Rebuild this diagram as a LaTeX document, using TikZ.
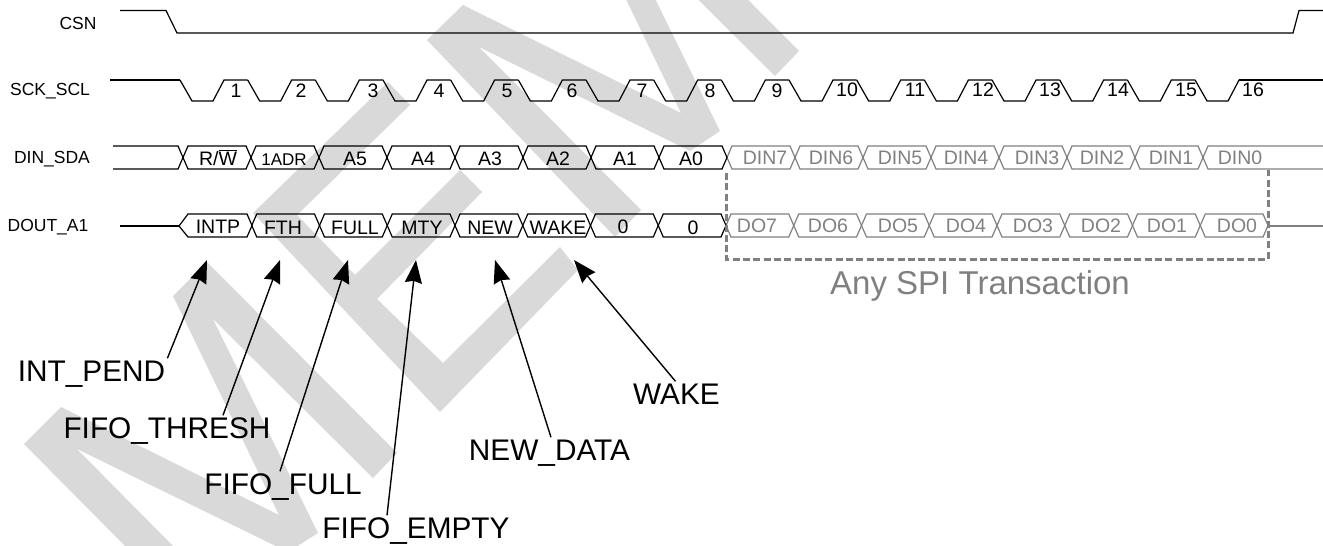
\documentclass[tikz,border=0pt]{standalone}
\usepackage{fontspec}
\setmainfont{Liberation Sans}
\usetikzlibrary{arrows.meta}
\definecolor{stamp}{HTML}{D9D9D9}
\definecolor{faded}{HTML}{808080}

\begin{document}
\begin{tikzpicture}[x=1pt,y=-1pt,line join=miter,
                    wave/.style={draw=black,line width=1.2pt},
                    fadedwave/.style={draw=faded,line width=1.2pt},
                    signame/.style={inner sep=0,text height=12.5pt,text depth=0pt,font=\fontsize{17.5}{17.5}\selectfont},
                    cell/.style={inner sep=0,text height=13.9pt,text depth=0pt,font=\fontsize{19.5}{19.5}\selectfont},
                    fadedcell/.style={cell,text=faded},
                    callout/.style={inner sep=0,text height=21pt,text depth=0pt,font=\fontsize{29.8}{29.8}\selectfont},
                    pointer/.style={draw=black,line width=1.4pt,-{Stealth[length=23pt,width=17pt,inset=2pt]}}]
  \useasboundingbox (0,0) rectangle (1323,546);

  \begin{scope}
    \clip (0,0) rectangle (1323,546);
    \fill[stamp] (61,407) -- (279,515) -- (173,296) -- (207,262) -- (397,453) -- (373,478)
      -- (213,319) -- (318,533) -- (288,552) -- (77,449) -- (173,546) -- (125,546) -- (24,444) -- cycle;
    \fill[stamp] (253,213) -- (388,82) -- (410,105) -- (297,215) -- (355,275) -- (460,170) -- (482,192)
      -- (377,299) -- (443,363) -- (560,247) -- (578,270) -- (440,412) -- cycle;
    \fill[stamp] (463,5) -- (681,113) -- (575,-106) -- (609,-140) -- (799,51) -- (775,76)
      -- (615,-83) -- (720,131) -- (690,151) -- (479,47) -- (641,210) -- (615,237) -- (427,40) -- cycle;
  \end{scope}

  \node[signame] (csn)  at (78,23)    {CSN};
  \node[signame] (sck)  at (50,89)    {SCK\_SCL};
  \node[signame] (din)  at (52,157.5) {DIN\_SDA};
  \node[signame] (dout) at (48,225.5) {DOUT\_A1};

  \draw[wave] (120,10.5) -- (166,10.5) -- (177,33) -- (1293,33) -- (1299,10.5) -- (1323,10.5);

  \draw[wave] (110,80) -- (180,80);
  \foreach \i in {0,...,15}{
    \pgfmathsetmacro{\xa}{180+67.67*\i}
    \draw[wave] (\xa,80) -- (\xa+12,101) -- (\xa+33,101) -- (\xa+44,80) -- (\xa+67.67,80);
  }
  \draw[wave] (1239,80) -- (1323,80);
  \foreach \i/\xx/\yy in {1/236/91,2/301/91,3/373/91,4/439/91,5/507/91,6/572/91,7/642/91,8/710/91,
                          9/777/91,10/847/90,11/915/90,12/983/90,13/1050/90,14/1118/90,15/1186/90,16/1253/90}
    \node[cell] (clk\i) at (\xx,\yy) {\i};

  \draw[wave] (113,146) -- (178,146) -- (183,157.5) -- (178,169) -- (113,169);
  \foreach \i in {8,...,14}{
    \pgfmathsetmacro{\xa}{183+68*\i}
    \draw[fadedwave] (\xa,157.5) -- (\xa+5,146) -- (\xa+63,146) -- (\xa+68,157.5) -- (\xa+63,169) -- (\xa+5,169) -- cycle;
  }
  \draw[fadedwave] (1323,146) -- (1208,146) -- (1203,157.5) -- (1208,169) -- (1323,169);
  \foreach \i in {0,...,7}{
    \pgfmathsetmacro{\xa}{183+68*\i}
    \draw[wave] (\xa,157.5) -- (\xa+5,146) -- (\xa+63,146) -- (\xa+68,157.5) -- (\xa+63,169) -- (\xa+5,169) -- cycle;
  }
  \foreach \i/\xx/\txt in {1/218/{R/$\overline{\mbox{W}}$},3/355/A5,4/423/A4,5/490/A3,6/558/A2,7/625/A1,8/691/A0}
    \node[cell] (dinbit\i) at (\xx,158.5) {\txt};
  \node[cell,font=\fontsize{17}{17}\selectfont] (dinbit2) at (284,158.5) {1ADR};
  \foreach \i/\xx/\txt in {9/765/DIN7,10/831/DIN6,11/900/DIN5,12/966/DIN4,13/1037/DIN3,14/1102/DIN2,15/1171/DIN1,16/1240/DIN0}
    \node[fadedcell] (dinbit\i) at (\xx,157.5) {\txt};

  \draw[wave] (120,226) -- (179,226);
  \foreach \i in {8,...,15}{
    \pgfmathsetmacro{\xa}{184+67.75*\i}
    \draw[fadedwave] (\xa,225.5) -- (\xa+5,214) -- (\xa+62.75,214) -- (\xa+67.75,225.5) -- (\xa+62.75,237) -- (\xa+5,237) -- cycle;
  }
  \draw[fadedwave] (1268,226) -- (1323,226);
  \foreach \i in {1,...,7}{
    \pgfmathsetmacro{\xa}{184+67.75*\i}
    \draw[wave] (\xa,225.5) -- (\xa+5,214) -- (\xa+62.75,214) -- (\xa+67.75,225.5) -- (\xa+62.75,237) -- (\xa+5,237) -- cycle;
  }
  \draw[wave] (179,226) -- (188,214) -- (247,214) -- (252,225.5) -- (247,237) -- (188,237) -- cycle;
  \foreach \i/\xx/\yy/\txt in {1/218/227/INTP,2/283/228/FTH,3/355/228/FULL,4/422/228/MTY,5/490/228/NEW,6/558/228/WAKE,7/623/227/0,8/693/228/0}
    \node[cell] (doutbit\i) at (\xx,\yy) {\txt};
  \foreach \i/\xx/\txt in {9/757/DO7,10/828/DO6,11/898/DO5,12/966/DO4,13/1033/DO3,14/1101/DO2,15/1167/DO1,16/1237/DO0}
    \node[fadedcell] (doutbit\i) at (\xx,226) {\txt};

  \coordinate (spia) at (726,173);
  \coordinate (spib) at (726,259);
  \coordinate (spic) at (1268,259);
  \coordinate (spid) at (1268,170);
  \draw[draw=faded,line width=3pt,dash pattern=on 7pt off 3.3pt] (spia) -- (spib) -- (spic) -- (spid);
  \node[callout,text=faded,font=\fontsize{33}{33}\selectfont] (spi) at (980,284) {Any SPI Transaction};

  \node[callout] (intpend) at (91.5,371) {INT\_PEND};
  \node[callout] (thresh)  at (167,428)  {FIFO\_THRESH};
  \node[callout] (full)    at (283,484)  {FIFO\_FULL};
  \node[callout] (empty)   at (416,528)  {FIFO\_EMPTY};
  \node[callout] (newdata) at (549.5,450) {NEW\_DATA};
  \node[callout] (wake)    at (676.5,394) {WAKE};

  \coordinate (intpendtip) at (207,260);
  \coordinate (threshtip)  at (280,260);
  \coordinate (fulltip)    at (348,260);
  \coordinate (emptytip)   at (416,260);
  \coordinate (newdatatip) at (495,260);
  \coordinate (waketip)    at (574,260);

  \draw[pointer] ([shift={(2pt,2pt)}]intpend.north east) -- (intpendtip);
  \draw[pointer] ([xshift=56pt,yshift=2pt]thresh.north) -- (threshtip);
  \draw[pointer] ([xshift=-3pt,yshift=2pt]full.north) -- (fulltip);
  \draw[pointer] ([xshift=-29pt,yshift=2pt]empty.north) -- (emptytip);
  \draw[pointer] ([xshift=1.5pt,yshift=2pt]newdata.north) -- (newdatatip);
  \draw[pointer] ([xshift=-1pt,yshift=2pt]wake.north) -- (waketip);
\end{tikzpicture}
\end{document}
